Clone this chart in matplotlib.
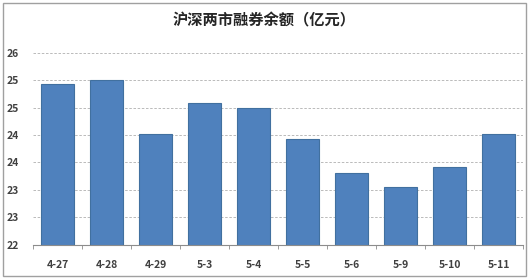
import numpy as np
import matplotlib.pyplot as plt
from matplotlib.patches import Rectangle
from matplotlib.ticker import FixedLocator, FuncFormatter

plt.rcParams['font.family'] = ['Noto Sans CJK SC', 'DejaVu Sans']

# 数据
fechas = ['4-27', '4-28', '4-29', '5-3', '5-4', '5-5', '5-6', '5-9', '5-10', '5-11']
saldo = [24.93, 25.00, 24.02, 24.58, 24.50, 23.93, 23.31, 23.06, 23.42, 24.01]
y_ticks = [22, 22.5, 23, 23.5, 24, 24.5, 25, 25.5]

fig = plt.figure(figsize=(5.29, 2.79), dpi=100)
ax = fig.add_axes([0.0624, 0.1229, 0.9263, 0.6882])

x = np.arange(len(fechas))
ax.bar(x, saldo, width=0.67, color='#4F81BD', edgecolor='#41709F', linewidth=0.8,
       bottom=0, zorder=3)

ax.set_xlim(-0.5, len(fechas) - 0.5)
ax.set_ylim(22, 25.5)
ax.yaxis.set_major_locator(FixedLocator(y_ticks))
# etiquetas redondeadas como en Excel
ax.yaxis.set_major_formatter(FuncFormatter(lambda v, p: '%d' % int(np.floor(v + 0.5))))
ax.set_xticks(x)
ax.set_xticklabels(fechas)
ax.xaxis.set_minor_locator(FixedLocator(np.arange(-0.5, len(fechas), 1)))

ax.grid(axis='y', linestyle=(0, (3, 2)), color='#B0B0B0', linewidth=0.6, zorder=0)
for s in ['top', 'right', 'left']:
    ax.spines[s].set_visible(False)
ax.spines['bottom'].set_color('#8C8C8C')
ax.spines['bottom'].set_zorder(4)

ax.tick_params(axis='y', length=0, pad=10, labelsize=7.5, labelcolor='#404040')
ax.tick_params(axis='x', which='major', length=0, pad=11, labelsize=7.5, labelcolor='#404040')
ax.tick_params(axis='x', which='minor', length=3, color='#8C8C8C', direction='out')
for lab in ax.get_xticklabels() + ax.get_yticklabels():
    lab.set_fontweight('bold')

fig.text(0.5, 0.928, '沪深两市融券余额（亿元）', ha='center', va='center',
         fontsize=11, fontweight='bold', color='#262626')

fig.patches.append(Rectangle((0.006, 0.01), 0.988, 0.98, transform=fig.transFigure,
                             fill=False, edgecolor='#A0A0A0', linewidth=1.0))

fig.savefig('out.png', dpi=100)
